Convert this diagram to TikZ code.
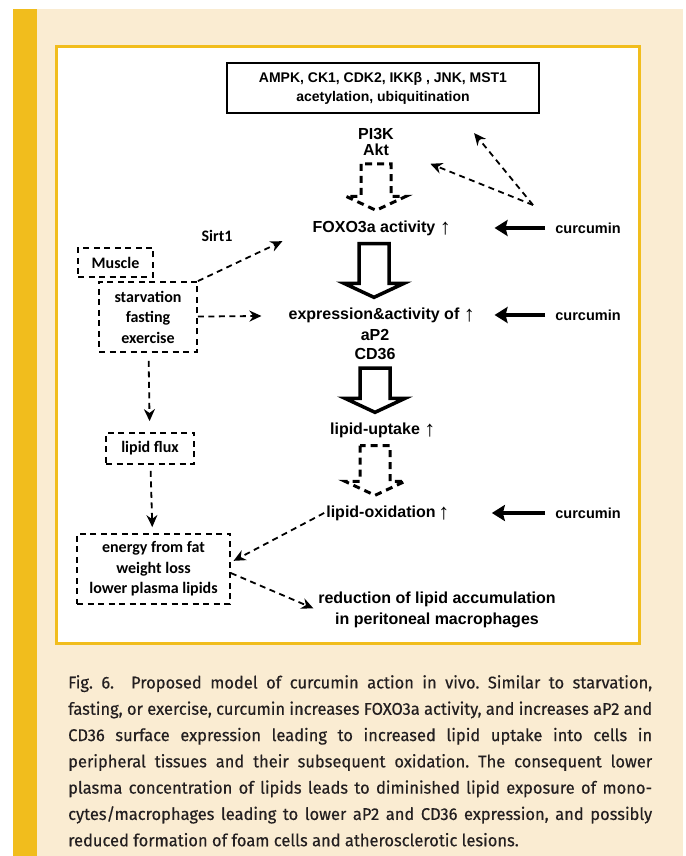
\documentclass[tikz,border=0pt]{standalone}
\usepackage{fontspec}
\setmainfont{Liberation Sans}
\newfontfamily\calfont{Carlito}
\newfontfamily\capfont{Fira Sans}[FakeStretch=0.97, FakeBold=0.4]
\usetikzlibrary{arrows.meta,calc,positioning}

\definecolor{barorange}{HTML}{F1BD1D}
\definecolor{capbeige}{HTML}{FAECD2}
\definecolor{captext}{HTML}{231F20}

\tikzset{
  txt/.style={font=\bfseries\fontsize{16}{16}\selectfont, inner sep=2pt, align=center},
  curtxt/.style={txt, font=\bfseries\fontsize{14.5}{15}\selectfont},
  sidetxt/.style={font=\calfont\bfseries\fontsize{16}{20.5}\selectfont, align=center},
  dashbox/.style={sidetxt, draw, line width=1.8pt, dash pattern=on 6pt off 4.5pt, inner sep=0pt},
  solidbox/.style={txt, draw, line width=1.5pt, font=\bfseries\fontsize{14}{19}\selectfont},
  dasharrow/.style={line width=1.8pt, dash pattern=on 6pt off 4.5pt, -{Stealth[length=12pt,width=11pt]}},
  curarrow/.style={line width=3.5pt, -{Stealth[length=13pt,width=16pt,inset=2pt]}},
  hollowsolid/.style={line width=3.5pt, line join=miter},
  hollowdash/.style={line width=3pt, dash pattern=on 7pt off 5pt},
}

% thin "increase" arrow after a label
\newcommand\upar{\smash{\raisebox{-2.5pt}{\fontsize{22}{22}\selectfont ↑}}}

% hollow block arrow from one node down to the next
\newcommand\blockarrow[3][]{%
  \draw[#1] let \p1=(#2.south), \p2=(#3.north) in
    (\x1-15,\y1-6) -- (\x1-15,\y2+22) -- (\x1-30,\y2+22) -- (\x1,\y2+8)
    -- (\x1+30,\y2+22) -- (\x1+15,\y2+22) -- (\x1+15,\y1-6) -- cycle;}

\begin{document}
\begin{tikzpicture}[x=1pt,y=1pt]
  % page, side bar and figure frame
  \useasboundingbox (0,0) rectangle (685,856);
  \fill[capbeige] (37,0) rectangle (683,847);
  \fill[barorange] (13,0) rectangle (37,847);
  \draw[barorange, line width=3pt, fill=white] (56.5,212.5) rectangle (639.5,809.5);

  % main column
  \node[solidbox, minimum width=312pt, minimum height=50pt] (kinases) at (383,768)
    {AMPK, CK1, CDK2, IKKβ , JNK, MST1\\acetylation, ubiquitination};
  \node[txt] (pi3k) at (376,714) {PI3K\\Akt};
  \node[txt] (foxo) at (374,628) {FOXO3a activity\rlap{\ \upar}};
  \node[txt] (expr) at (374,541) {expression\&activity of\rlap{\ \upar}};
  \node[txt, font=\bfseries\fontsize{16}{19.5}\selectfont] (ap2) at (375,511.5) {aP2\\CD36};
  \node[txt] (uptake) at (375,426) {lipid-uptake\rlap{\ \upar}};
  \node[txt] (oxid) at (381,343) {lipid-oxidation\rlap{\,\upar}};
  \node[txt, font=\bfseries\fontsize{16}{21}\selectfont] (reduc) at (437,246.5)
    {reduction of lipid accumulation\\in peritoneal macrophages};

  % curcumin
  \node[curtxt] (cur1) at (588,628) {curcumin};
  \node[curtxt] (cur2) at (cur1 |- expr) {curcumin};
  \node[curtxt] (cur3) at (cur1 |- oxid) {curcumin};
  \coordinate (cx) at (533,651);

  % left side
  \node[sidetxt] (sirt) at (217,620) {Sirt1};
  \node[dashbox, minimum width=75pt, minimum height=29pt] (muscle) at (115.5,593.5) {Muscle};
  \node[dashbox, minimum width=98pt, minimum height=70pt] (starve) at (148,539) {starvation\\fasting\\exercise};
  \node[dashbox, minimum width=88pt, minimum height=31pt] (flux) at (150,407.5) {lipid flux};
  \node[dashbox, minimum width=153pt, minimum height=70pt] (energy) at (153.5,287)
    {energy from fat\\weight loss\\lower plasma lipids};

  \blockarrow[hollowdash]{pi3k}{foxo}
  \blockarrow[hollowsolid]{foxo}{expr}
  \blockarrow[hollowsolid]{ap2}{uptake}
  \blockarrow[hollowdash]{uptake}{oxid}

  \draw[curarrow, shorten <=8pt, shorten >=57pt] (cur1) -- (foxo);
  \draw[curarrow, shorten <=8pt, shorten >=33pt] (cur2) -- (expr);
  \draw[curarrow, shorten <=8pt, shorten >=54pt] (cur3) -- (oxid);
  \draw[dasharrow, shorten >=25pt] (cx) -- ($(kinases.south east)!0.26!(kinases.south west)$);
  \draw[dasharrow, shorten >=37pt] (cx) -- (pi3k);

  \draw[dasharrow, shorten >=31pt] (starve.north east) -- (foxo.west);
  \draw[dasharrow, shorten >=25pt] (starve) -- (expr);
  \draw[dasharrow, shorten <=8pt, shorten >=11pt] (starve) -- (flux);
  \draw[dasharrow, shorten <=6pt, shorten >=6pt] (flux) -- (energy);
  \draw[dasharrow, shorten >=3pt] (oxid.west) -- (energy.5);
  \draw[dasharrow, shorten >=3pt] (energy.-3) -- (reduc.west);

  % caption
  \node[anchor=north west, text width=584pt, align=justify, inner sep=0pt, text=captext,
        font=\capfont\frenchspacing\fontsize{17}{26.3}\selectfont] (caption) at (68,181)
    {Fig.~6.\hspace{1em}Proposed model of curcumin action in vivo. Similar to starvation,\linebreak
     fasting, or exercise, curcumin increases FOXO3a activity, and increases aP2 and\linebreak
     CD36 surface expression leading to increased lipid uptake into cells in\linebreak
     peripheral tissues and their subsequent oxidation. The consequent lower\linebreak
     plasma concentration of lipids leads to diminished lipid exposure of mono-\linebreak
     cytes/macrophages leading to lower aP2 and CD36 expression, and possibly\linebreak
     reduced formation of foam cells and atherosclerotic lesions.};
\end{tikzpicture}
\end{document}
